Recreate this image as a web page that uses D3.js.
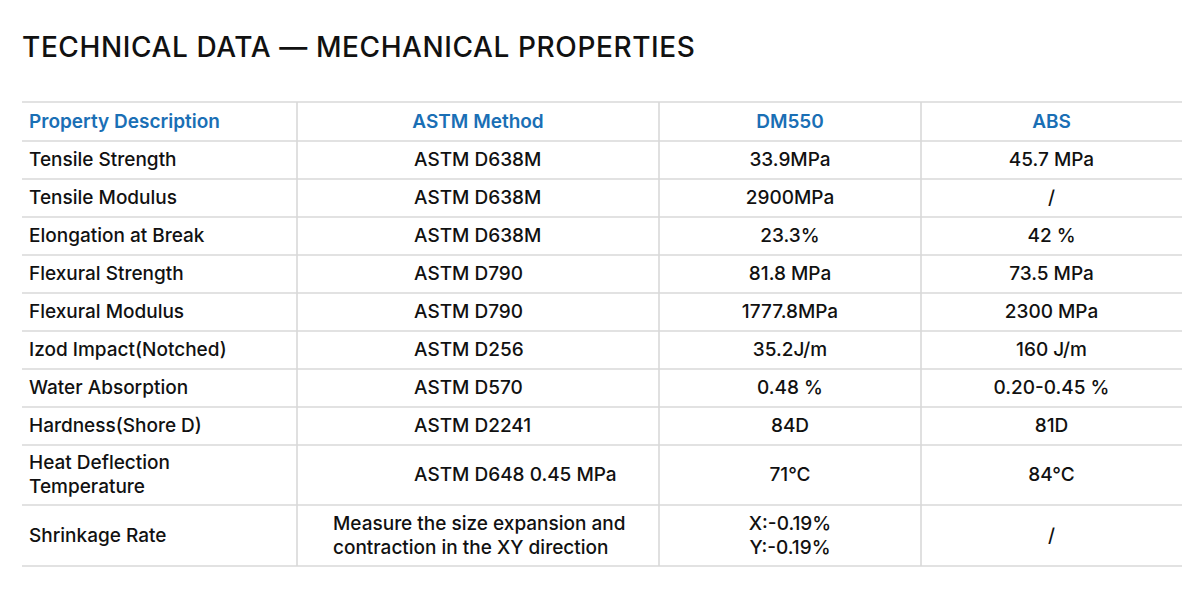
<!DOCTYPE html>
<html><head><meta charset="utf-8">
<script src="https://cdn.jsdelivr.net/npm/d3@7"></script>
<style>body{margin:0;background:#fff}</style></head>
<body><svg id="c" width="1200" height="589"></svg>
<script>
const title = "TECHNICAL DATA — MECHANICAL PROPERTIES";
const headers = ["Property Description","ASTM Method","DM550","ABS"];
const properties = ["Tensile Strength","Tensile Modulus","Elongation at Break","Flexural Strength","Flexural  Modulus","Izod Impact(Notched)","Water Absorption","Hardness(Shore D)","Heat Deflection\nTemperature","Shrinkage Rate"];
const methods = ["ASTM D638M","ASTM D638M","ASTM D638M","ASTM D790","ASTM D790","ASTM D256","ASTM D570","ASTM D2241","ASTM D648 0.45 MPa","Measure the size expansion and\ncontraction in the XY direction"];
const dm550 = ["33.9MPa","2900MPa","23.3%","81.8 MPa","1777.8MPa","35.2J/m","0.48 %","84D","71°C","X:-0.19%\nY:-0.19%"];
const abs = ["45.7 MPa","/","42 %","73.5 MPa","2300 MPa","160 J/m","0.20-0.45 %","81D","84°C","/"];
const rowHeights = [39,38,38,38,38,38,38,38,38,60,61];

const svg = d3.select("#c");
const font = "Inter, 'Noto Sans', sans-serif";
svg.append("text").attr("x",22).attr("y",57).attr("font-family",font).attr("font-size",28).attr("font-weight",500).attr("letter-spacing",0.6).attr("fill","#111").text(title);

const colEdges=[22,297,659,921,1182];
const align=["start","start","middle","middle"];
const tableTop=102;
const ys=[tableTop]; rowHeights.forEach(h=>ys.push(ys[ys.length-1]+h));
const lineC="#d9d9d9";
ys.forEach(y=>svg.append("line").attr("x1",22).attr("x2",1182).attr("y1",y).attr("y2",y).attr("stroke",lineC).attr("stroke-width",1.6));
[297,659,921].forEach(x=>svg.append("line").attr("x1",x).attr("x2",x).attr("y1",tableTop).attr("y2",ys[ys.length-1]).attr("stroke",lineC).attr("stroke-width",1.6));

const rows=[headers].concat(properties.map((p,i)=>[p,methods[i],dm550[i],abs[i]]));
function cellX(c,i){
  if(c===0) return 29;
  if(c===1) return i===0? 478 : (i===10?333:414);
  return (colEdges[c]+colEdges[c+1])/2;
}
rows.forEach((r,i)=>{
  const y0=ys[i],y1=ys[i+1],mid=(y0+y1)/2;
  r.forEach((t,c)=>{
    const lines=t.split("\n");
    let anchor = i===0 ? (c===0?"start":"middle") : align[c];
    const tx=svg.append("text").attr("font-family",font).attr("font-size",19)
      .attr("font-weight", i===0?600:500).attr("fill", i===0?"#1a6fb5":"#111")
      .attr("text-anchor",anchor);
    const lh=24, start=mid-(lines.length-1)*lh/2+6;
    lines.forEach((l,k)=>tx.append("tspan").attr("x",cellX(c,i)).attr("y",start+k*lh).text(l));
  });
});
</script></body></html>
